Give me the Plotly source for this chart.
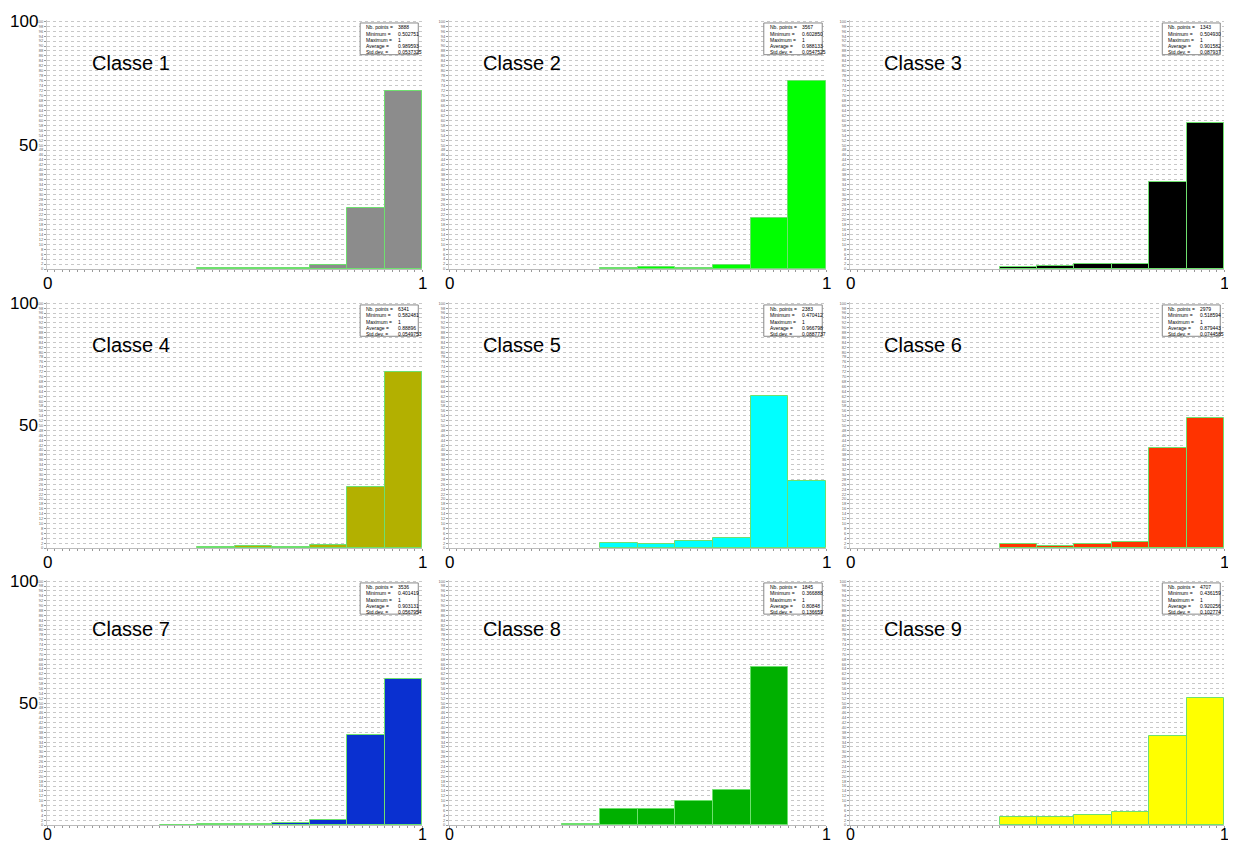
import plotly.graph_objects as go

# ---- data ----
bin_left = [0.3, 0.4, 0.5, 0.6, 0.7, 0.8, 0.9]
bin_width = 0.1
class_names = ["Classe 1", "Classe 2", "Classe 3", "Classe 4", "Classe 5",
               "Classe 6", "Classe 7", "Classe 8", "Classe 9"]
classe1 = [None, 0.5, 0.5, 0.5, 1.5, 24.5, 72.0]
classe2 = [None, 0.6, 0.7, 0.6, 1.5, 20.5, 76.0]
classe3 = [None, 1.0, 1.2, 2.0, 2.0, 35.0, 59.0]
classe4 = [None, 0.5, 0.7, 0.5, 1.2, 25.0, 72.0]
classe5 = [None, 2.2, 1.5, 2.7, 4.2, 62.0, 27.4]
classe6 = [None, 1.5, 0.9, 1.5, 2.3, 41.0, 53.0]
classe7 = [0.2, 0.6, 0.6, 0.8, 2.0, 37.0, 60.0]
classe8 = [0.3, 6.5, 6.5, 9.8, 14.3, 65.0, None]
classe9 = [None, 3.3, 3.3, 4.0, 5.3, 36.5, 52.0]
all_values = [classe1, classe2, classe3, classe4, classe5, classe6, classe7, classe8, classe9]
colors = ["#8c8c8c", "#00ff00", "#000000", "#b3b000", "#00ffff",
          "#ff3300", "#0a30d0", "#00b000", "#ffff00"]

stat_labels = ["Nb. points =", "Minimum =", "Maximum =", "Average =", "Std.dev. ="]
stats_n = ["3888", "3567", "1343", "6341", "2383", "2979", "3536", "1845", "4707"]
stats_min = ["0.502751", "0.602850", "0.504930", "0.582481", "0.470412",
             "0.518594", "0.401419", "0.366888", "0.436159"]
stats_max = ["1", "1", "1", "1", "1", "1", "1", "1", "1"]
stats_avg = ["0.989593", "0.988133", "0.901582", "0.88896", "0.966798",
             "0.879443", "0.903131", "0.80848", "0.920256"]
stats_sd = ["0.0537325", "0.0547525", "0.087937", "0.0549753", "0.0887737",
            "0.0744585", "0.0567954", "0.136659", "0.102774"]

y_ticks = list(range(0, 101, 2))

# ---- layout geometry (pixels; page body has an 8px margin) ----
OFF = 8
W, H = 1236 - 2 * OFF, 850 - 2 * OFF
col_px = [(47 - OFF, 422 - OFF), (449 - OFF, 826 - OFF), (850 - OFF, 1224 - OFF)]
row_px = [(20 - OFF, 269 - OFF), (302 - OFF, 548 - OFF), (580 - OFF, 825 - OFF)]

fig = go.Figure()
layout = dict(width=W, height=H, margin=dict(l=0, r=0, t=0, b=0, autoexpand=False),
              plot_bgcolor="white", paper_bgcolor="white", showlegend=False,
              bargap=0, annotations=[], shapes=[])

centers = [b + bin_width / 2 for b in bin_left]

for i in range(9):
    r, c = divmod(i, 3)
    n = i + 1
    xa = "x" if n == 1 else f"x{n}"
    ya = "y" if n == 1 else f"y{n}"
    x0, x1 = col_px[c]
    y0, y1 = row_px[r]
    layout[f"xaxis{'' if n == 1 else n}"] = dict(
        domain=[x0 / W, x1 / W], anchor=ya, range=[0, 1], automargin=False,
        showgrid=False, zeroline=False, showticklabels=False,
        ticks="outside", tickvals=[k / 50 for k in range(51)], ticklen=2,
        tickcolor="#999999", showline=True, linecolor="#bbbbbb", linewidth=1)
    layout[f"yaxis{'' if n == 1 else n}"] = dict(
        domain=[1 - y1 / H, 1 - y0 / H], anchor=xa, range=[0, 100.5],
        automargin=False,
        tickvals=y_ticks, ticktext=[str(v) for v in y_ticks],
        tickfont=dict(size=4, color="#666666", family="Arial"),
        ticks="outside", ticklen=2, tickcolor="#999999",
        showgrid=True, gridcolor="#c8c8c8", griddash="dot", gridwidth=1,
        zeroline=False, showline=True, linecolor="#cccccc", linewidth=1)

    fig.add_trace(go.Bar(
        x=centers, y=all_values[i], width=[bin_width] * len(centers),
        marker=dict(color=colors[i], line=dict(color="#6ee06e", width=1)),
        xaxis=xa, yaxis=ya, hoverinfo="skip"))

    ann = layout["annotations"]
    # class label
    ann.append(dict(x=0.115 if c == 0 else 0.085, y=83 if r < 2 else 80.5,
                    xref=xa, yref=ya, text=class_names[i], showarrow=False,
                    xanchor="left", yanchor="middle",
                    font=dict(size=20, family="Arial", color="#000000")))
    # axis end labels
    shift = -14 if r < 2 else -9
    fsize = 17 if r < 2 else 16
    for xv, txt in ((0, "0"), (1, "1")):
        ann.append(dict(x=xv, y=0, xref=xa, yref=ya, text=txt, showarrow=False,
                        xanchor="center", yanchor="middle", yshift=shift,
                        borderpad=0,
                        font=dict(size=fsize, family="Arial", color="#000000")))
    if c == 0:
        ann.append(dict(x=0, y=100, xref=xa, yref=ya, text="100", showarrow=False,
                        xanchor="right", yanchor="middle", xshift=-7,
                        font=dict(size=17, family="Arial", color="#000000")))
        ann.append(dict(x=0, y=50, xref=xa, yref=ya, text="50", showarrow=False,
                        xanchor="right", yanchor="middle", xshift=-7,
                        font=dict(size=17, family="Arial", color="#000000")))
    # stats box
    layout["shapes"].append(dict(type="rect", xref=xa, yref=ya,
                                 x0=0.835, x1=0.99, y0=86.5, y1=99.3,
                                 line=dict(color="#888888", width=1),
                                 fillcolor="white", layer="above"))
    vals = [stats_n[i], stats_min[i], stats_max[i], stats_avg[i], stats_sd[i]]
    for k in range(5):
        yy = 97.6 - k * 2.55
        ann.append(dict(x=0.845, y=yy, xref=xa, yref=ya, text=stat_labels[k],
                        showarrow=False, xanchor="left", yanchor="middle",
                        font=dict(size=5, family="Arial", color="#000000")))
        ann.append(dict(x=0.93, y=yy, xref=xa, yref=ya, text=vals[k],
                        showarrow=False, xanchor="left", yanchor="middle",
                        font=dict(size=5, family="Arial", color="#000000")))

fig.update_layout(**layout)
fig.write_html("out.html")
